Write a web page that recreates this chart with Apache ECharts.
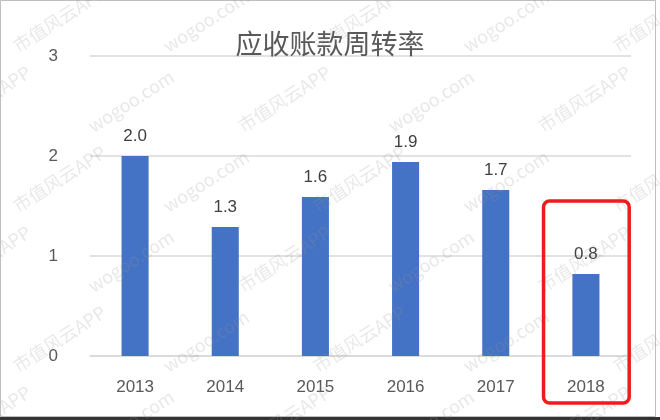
<!DOCTYPE html>
<html>
<head>
<meta charset="utf-8">
<script src="https://cdn.jsdelivr.net/npm/echarts@6/dist/echarts.min.js"></script>
<style>
  html, body { margin: 0; padding: 0; background: #fff; }
  #chart { width: 660px; height: 420px; }
</style>
</head>
<body>
<div id="chart"></div>
<script>
// 数据
const years = ['2013', '2014', '2015', '2016', '2017', '2018'];
const turnover = [2.0, 1.29, 1.59, 1.94, 1.66, 0.82];
const yTicks = [0, 1, 2, 3];
const highlightYear = '2018';

const chart = echarts.init(document.getElementById('chart'));

// 水印
const marks = [];
for (let r = -1; r < 6; r++) {
  for (let c = -1; c < 6; c++) {
    marks.push({
      type: 'text',
      x: c * 150 + (r % 2) * 75 + 10,
      y: r * 80 + 40,
      rotation: Math.PI / 5.5,
      silent: true,
      z: 100,
      style: {
        text: (r + c) % 2 === 0 ? '市值风云APP' : 'wogoo.com',
        fill: 'rgba(150,150,150,0.22)',
        font: '18px "Noto Sans CJK SC", sans-serif'
      }
    });
  }
}

const option = {
  animation: false,
  backgroundColor: '#fff',
  title: {
    text: '应收账款周转率',
    left: 'center',
    top: 25,
    textStyle: {
      color: '#595959',
      fontSize: 27,
      fontWeight: 'normal',
      fontFamily: '"Noto Sans CJK SC", sans-serif'
    }
  },
  grid: { left: 90, right: 29, top: 56, bottom: 64 },
  xAxis: {
    type: 'category',
    data: years,
    axisLine: { lineStyle: { color: '#d9d9d9', width: 1.5 } },
    axisTick: { show: false },
    axisLabel: {
      color: '#595959',
      fontSize: 17,
      margin: 23,
      fontFamily: '"Liberation Sans", sans-serif'
    }
  },
  yAxis: {
    type: 'value',
    min: yTicks[0],
    max: yTicks[yTicks.length - 1],
    interval: 1,
    axisLine: { show: false },
    axisTick: { show: false },
    splitLine: { lineStyle: { color: '#d9d9d9', width: 1.5 } },
    axisLabel: {
      color: '#595959',
      fontSize: 17,
      margin: 32,
      fontFamily: '"Liberation Sans", sans-serif'
    }
  },
  series: [{
    type: 'bar',
    data: turnover,
    barWidth: '30%',
    itemStyle: { color: '#4472C4' },
    label: {
      show: true,
      position: 'top',
      distance: 11,
      color: '#404040',
      fontSize: 17,
      fontFamily: '"Liberation Sans", sans-serif',
      formatter: p => p.value.toFixed(1)
    }
  }]
};

chart.setOption(option);

// 红框：按坐标轴换算位置
const hiIdx = years.indexOf(highlightYear);
const hiCenter = chart.convertToPixel({ gridIndex: 0 }, [hiIdx, 0]);
const catStep = chart.convertToPixel({ gridIndex: 0 }, [1, 0])[0] - chart.convertToPixel({ gridIndex: 0 }, [0, 0])[0];
const boxTop = chart.convertToPixel({ gridIndex: 0 }, [hiIdx, 1.55])[1];

chart.setOption({
  graphic: [
    {
      type: 'rect',
      shape: { x: hiCenter[0] - catStep * 0.47, y: boxTop, width: catStep * 0.95, height: 403 - boxTop, r: 6 },
      style: { fill: 'none', stroke: '#ee1c1c', lineWidth: 3.5 },
      z: 110
    },
    {
      type: 'rect',
      shape: { x: 0.5, y: 0.5, width: 655, height: 416 },
      style: { fill: 'none', stroke: '#bfbfbf', lineWidth: 1 },
      z: 90
    },
    {
      type: 'rect',
      shape: { x: 0, y: 417, width: 660, height: 3 },
      style: { fill: '#333' },
      z: 90
    }
  ].concat(marks)
});
</script>
</body>
</html>
